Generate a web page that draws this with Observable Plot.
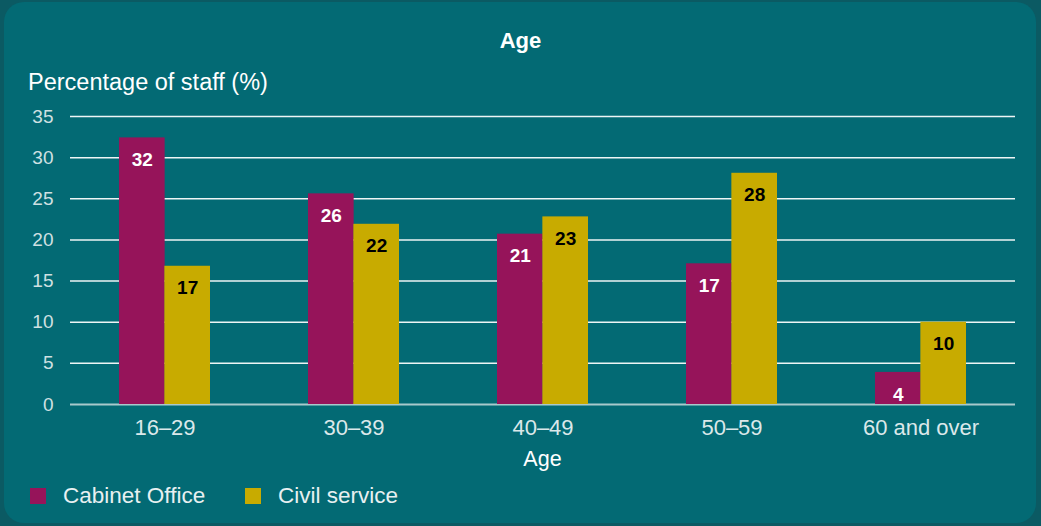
<!DOCTYPE html>
<html>
<head>
<meta charset="utf-8">
<script src="https://cdn.jsdelivr.net/npm/d3@7"></script>
<script src="https://cdn.jsdelivr.net/npm/@observablehq/plot@0.6"></script>
<style>
  html, body { margin: 0; padding: 0; }
  body { width: 1041px; height: 526px; background: #0b5a63; position: relative; overflow: hidden;
         font-family: "Liberation Sans", Arial, sans-serif; }
  #card { position: absolute; left: 4px; top: 2px; width: 1032px; height: 521px; border-radius: 20px; background: #036a74; }
  .abs { position: absolute; white-space: nowrap; line-height: 1; }
  #title { left: 0; width: 1041px; top: 30px; text-align: center; color: #fff; font-weight: bold; font-size: 22px; }
  #ylabel { left: 28px; top: 71px; color: #fff; font-size: 23.5px; }
  #xlabel { left: 0; width: 1085px; top: 449px; text-align: center; color: #fff; font-size: 21.5px; }
  #chart { position: absolute; left: 0; top: 100px; }
  .legend { top: 485px; color: #e8f0f1; font-size: 22.5px; display: flex; align-items: center; }
  .swatch { width: 16px; height: 16px; display: inline-block; margin-right: 17px; }
</style>
</head>
<body>
<div id="card"></div>
<div id="title" class="abs">Age</div>
<div id="ylabel" class="abs">Percentage of staff (%)</div>
<div id="chart"></div>
<div id="xlabel" class="abs">Age</div>
<div id="legend"></div>
<script>
const categories = ["16–29", "30–39", "40–49", "50–59", "60 and over"];
const series = ["Cabinet Office", "Civil service"];
const cabinetOffice = [32.4, 25.6, 20.7, 17.1, 3.9];
const civilService = [16.8, 21.9, 22.8, 28.1, 10.0];
const yTicks = [0, 5, 10, 15, 20, 25, 30, 35];
const colors = ["#96145a", "#c8ab00"];
const labelColors = ["#ffffff", "#000000"];

const coData = categories.map((c, i) => ({category: c, series: series[0], value: cabinetOffice[i]}));
const csData = categories.map((c, i) => ({category: c, series: series[1], value: civilService[i]}));

const W = 1041, H = 374, mL = 70, mR = 26;
const pInner = 0.52, pOuter = 0.26;
const step = (W - mL - mR) / (categories.length - pInner + 2 * pOuter);
const half = step * (1 - pInner) / 2;

const chart = Plot.plot({
  width: W, height: H,
  marginTop: 16, marginBottom: 70, marginLeft: mL, marginRight: mR,
  style: {background: "transparent", color: "#cfe0e2", fontFamily: "'Liberation Sans', Arial, sans-serif", fontSize: "19px"},
  x: {type: "band", domain: categories, paddingInner: pInner, paddingOuter: pOuter, label: null, axis: null},
  y: {domain: [0, 35], ticks: yTicks, label: null, tickSize: 0, tickPadding: 17},
  color: {domain: series, range: colors},
  marks: [
    Plot.ruleY(yTicks.filter(d => d > 0), {stroke: "#eef5f5", strokeWidth: 1.5}),
    Plot.ruleY([0], {stroke: "#a9c9cc", strokeWidth: 2}),
    Plot.barY(coData, {x: "category", y: "value", fill: "series", insetRight: half}),
    Plot.barY(csData, {x: "category", y: "value", fill: "series", insetLeft: half}),
    Plot.text(coData, {x: "category", y: "value", text: d => Math.round(d.value), dx: -half / 2, dy: 22, fill: labelColors[0], fontSize: 19, fontWeight: "bold"}),
    Plot.text(csData, {x: "category", y: "value", text: d => Math.round(d.value), dx: half / 2, dy: 22, fill: labelColors[1], fontSize: 19, fontWeight: "bold"}),
    Plot.axisX({tickSize: 0, tickPadding: 15, fontSize: 22, label: null, fill: "#dbe8ea"})
  ]
});
document.getElementById("chart").appendChild(chart);

const legend = document.getElementById("legend");
const legendX = [30, 245];
series.forEach((s, i) => {
  const item = document.createElement("div");
  item.className = "abs legend";
  item.style.left = legendX[i] + "px";
  item.innerHTML = `<span class="swatch" style="background:${colors[i]}"></span><span>${s}</span>`;
  legend.appendChild(item);
});
</script>
</body>
</html>
